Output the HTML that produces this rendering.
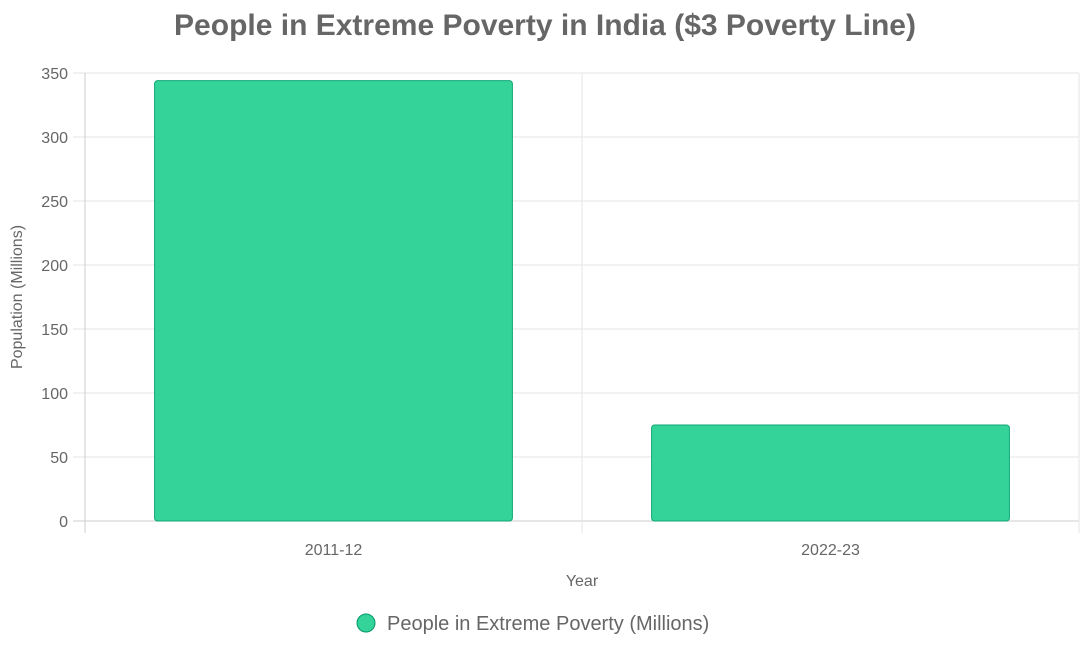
<!DOCTYPE html>
<html><head><meta charset="utf-8"><style>
html,body{margin:0;padding:0;background:#fff;}
svg{display:block;font-family:"Liberation Sans",Arial,sans-serif;}
</style></head><body>
<svg id="chart" width="1080" height="649" viewBox="0 0 1080 649">
<text x="545" y="35" text-anchor="middle" font-size="30" font-weight="bold" fill="#666">People in Extreme Poverty in India ($3 Poverty Line)</text>
<g id="grid"></g>
<g id="bars"></g>
<g id="axes"></g>
<text x="582" y="586" text-anchor="middle" font-size="16" fill="#666">Year</text>
<text transform="translate(22,297) rotate(-90)" text-anchor="middle" font-size="16" fill="#666">Population (Millions)</text>
<g>
<circle cx="366" cy="623" r="9" fill="#34d399" stroke="#059669" stroke-width="1"></circle>
<text x="387" y="630" font-size="20" fill="#666">People in Extreme Poverty (Millions)</text>
</g>
</svg>
<script>
const categories = ["2011-12", "2022-23"];
const values = [344, 75];
const yTicks = [0, 50, 100, 150, 200, 250, 300, 350];
const ns = "http://www.w3.org/2000/svg";
const L = 85, R = 1079, T = 73, B = 521, yMax = 350;
const y = v => B - (v / yMax) * (B - T);
const bw = (R - L) / categories.length;
const x = i => L + bw * i;
function mk(tag, attrs, parent) {
  const e = document.createElementNS(ns, tag);
  for (const k in attrs) e.setAttribute(k, attrs[k]);
  parent.appendChild(e);
  return e;
}
const grid = document.getElementById('grid');
const bars = document.getElementById('bars');
const axes = document.getElementById('axes');
yTicks.forEach(t => {
  const ln = mk('line', {x1: 73, x2: R, y1: y(t), y2: y(t), stroke: t === 0 ? '#ccc' : '#e5e5e5', 'stroke-width': 1}, grid);
  
  
  const tx = mk('text', {x: 68, y: y(t) + 6, 'text-anchor': 'end', 'font-size': 16, fill: '#666'}, axes);
  tx.textContent = t;
  
  
});
for (let i = 0; i <= categories.length; i++) {
  const ln = mk('line', {x1: x(i), x2: x(i), y1: T, y2: 533, stroke: i === 0 ? '#ccc' : '#e5e5e5', 'stroke-width': 1}, grid);
  
  
}
categories.forEach((c, i) => {
  const w = bw * 0.72;
  const bx = x(i) + (bw - w) / 2;
  const r = mk('rect', {x: bx, y: y(values[i]), width: w, height: B - y(values[i]), rx: 3, fill: '#34d399', stroke: '#10a678', 'stroke-width': 1}, bars);
  
  
  const tx = mk('text', {x: x(i) + bw / 2, y: 555, 'text-anchor': 'middle', 'font-size': 16, fill: '#666'}, axes);
  tx.textContent = c;
  
  
});
</script>
</body></html>
